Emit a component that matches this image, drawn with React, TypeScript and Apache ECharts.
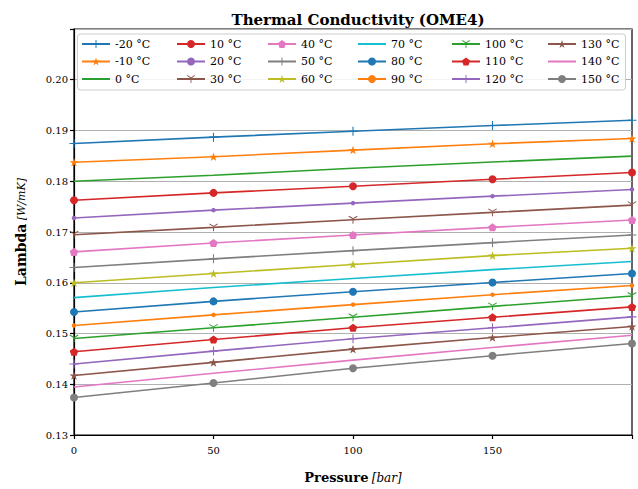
import React, { useEffect, useRef } from 'react';
import * as echarts from 'echarts';

const pressure = [0, 50, 100, 150, 200];
const xTickLabels = ['0', '50', '100', '150'];
const yTickLabels = ['0.13', '0.14', '0.15', '0.16', '0.17', '0.18', '0.19', '0.20'];

const temperatures = [-20, -10, 0, 10, 20, 30, 40, 50, 60, 70, 80, 90, 100, 110, 120, 130, 140, 150];

const lambdaM20 = [0.18745, 0.18869, 0.18986, 0.19098, 0.19202];
const lambdaM10 = [0.18373, 0.18484, 0.18614, 0.18739, 0.18843];
const lambda0 = [0.18, 0.18118, 0.18255, 0.18378, 0.18496];
const lambda10 = [0.17627, 0.17771, 0.17902, 0.18039, 0.18171];
const lambda20 = [0.17275, 0.17431, 0.17569, 0.17706, 0.17837];
const lambda30 = [0.16947, 0.17092, 0.17241, 0.17386, 0.17529];
const lambda40 = [0.16608, 0.16784, 0.16941, 0.17092, 0.17235];
const lambda50 = [0.163, 0.16471, 0.16633, 0.1679, 0.16941];
const lambda60 = [0.16, 0.16182, 0.16359, 0.16535, 0.1668];
const lambda70 = [0.15706, 0.15906, 0.16084, 0.16259, 0.16418];
const lambda80 = [0.15425, 0.15633, 0.15824, 0.16006, 0.16182];
const lambda90 = [0.15157, 0.15367, 0.15569, 0.15765, 0.15947];
const lambda100 = [0.14902, 0.15112, 0.1532, 0.15535, 0.15739];
const lambda110 = [0.14641, 0.14882, 0.15112, 0.1532, 0.15524];
const lambda120 = [0.14398, 0.14653, 0.14896, 0.15112, 0.15327];
const lambda130 = [0.14171, 0.14431, 0.14692, 0.14922, 0.15137];
const lambda140 = [0.13947, 0.14216, 0.14476, 0.14725, 0.14967];
const lambda150 = [0.13739, 0.14025, 0.14314, 0.14563, 0.14804];

const lambdaSeries = [
  lambdaM20, lambdaM10, lambda0, lambda10, lambda20, lambda30, lambda40, lambda50, lambda60,
  lambda70, lambda80, lambda90, lambda100, lambda110, lambda120, lambda130, lambda140, lambda150,
];

const tab10 = ['#1f77b4', '#ff7f0e', '#2ca02c', '#d62728', '#9467bd', '#8c564b', '#e377c2', '#7f7f7f', '#bcbd22', '#17becf'];

const PLUS = 'path://M-0.12,-1L0.12,-1L0.12,-0.12L1,-0.12L1,0.12L0.12,0.12L0.12,1L-0.12,1L-0.12,0.12L-1,0.12L-1,-0.12L-0.12,-0.12Z';
const STAR = 'path://M0,-1L0.2245,-0.309L0.951,-0.309L0.3633,0.118L0.588,0.809L0,0.382L-0.588,0.809L-0.3633,0.118L-0.951,-0.309L-0.2245,-0.309Z';
const TRI = 'path://M-0.1,0L0.1,0L0.1,1L-0.1,1ZM0.05,-0.0866L-0.05,0.0866L-0.916,-0.4134L-0.816,-0.5866ZM-0.05,-0.0866L0.05,0.0866L0.916,-0.4134L0.816,-0.5866Z';
const PENT = 'path://M0,-1L0.951,-0.309L0.588,0.809L-0.588,0.809L-0.951,-0.309Z';

const markerCycle: { symbol: string; size: number }[] = [
  { symbol: PLUS, size: 9 },
  { symbol: STAR, size: 9 },
  { symbol: 'none', size: 0 },
  { symbol: 'circle', size: 8 },
  { symbol: 'circle', size: 4.5 },
  { symbol: TRI, size: 9 },
  { symbol: PENT, size: 8.5 },
];

const FONT = 'DejaVu Serif';

export default function App() {
  const ref = useRef<HTMLDivElement>(null);
  useEffect(() => {
    const chart = echarts.init(ref.current!, null, { renderer: 'svg' });
    const names = temperatures.map((t) => `${t} °C`);
    const series = temperatures.map((t, i) => {
      const m = markerCycle[i % markerCycle.length];
      const color = tab10[i % tab10.length];
      return {
        name: names[i],
        type: 'line',
        data: pressure.map((p, j) => [p, lambdaSeries[i][j]]),
        symbol: m.symbol,
        symbolSize: m.size,
        symbolKeepAspect: true,
        showSymbol: m.symbol !== 'none',
        color,
        lineStyle: { color, width: 1.6 },
        itemStyle: { color },
        emphasis: { disabled: true },
        z: 2,
      };
    });
    const legendLefts = [81, 176, 267, 357, 451, 547];
    const legends = legendLefts.map((left, c) => ({
      orient: 'vertical',
      left,
      top: 37,
      padding: 0,
      itemWidth: 28,
      itemHeight: 10,
      itemGap: 3.5,
      selectedMode: false,
      z: 6,
      data: names.slice(c * 3, c * 3 + 3).map((n) => {
        const idx = names.indexOf(n);
        const m = markerCycle[idx % markerCycle.length];
        return m.symbol === 'none' ? { name: n, itemStyle: { opacity: 0 } } : { name: n };
      }),
      textStyle: { fontFamily: FONT, fontSize: 11, color: '#000', lineHeight: 14 },
    }));
    chart.setOption({
      animation: false,
      backgroundColor: '#fff',
      title: {
        text: 'Thermal Conductivity (OME4)',
        left: 353,
        textAlign: 'center',
        top: 7,
        textStyle: { fontFamily: FONT, fontSize: 15, fontWeight: 'bold', color: '#000' },
      },
      graphic: [
        {
          type: 'rect',
          z: 5,
          shape: { x: 77.5, y: 34, width: 548, height: 56, r: 3 },
          style: { fill: 'rgba(255,255,255,0.85)', stroke: '#cccccc', lineWidth: 1 },
        },
      ],
      legend: legends,
      grid: { left: 74, right: 6, top: 29, bottom: 52, show: true, borderColor: '#000', borderWidth: 1.2 },
      xAxis: {
        type: 'value',
        min: 0,
        max: 200,
        interval: 50,
        name: '{b|Pressure} {i|[bar]}',
        nameLocation: 'middle',
        nameGap: 36,
        nameTextStyle: {
          rich: {
            b: { fontFamily: FONT, fontSize: 13, fontWeight: 'bold', color: '#000' },
            i: { fontFamily: FONT, fontSize: 12, fontStyle: 'italic', color: '#000' },
          },
        },
        axisLine: { show: true, lineStyle: { color: '#000', width: 1.2 } },
        axisTick: { show: true, length: 4, lineStyle: { color: '#000', width: 1.2 } },
        axisLabel: {
          fontFamily: FONT,
          fontSize: 10,
          color: '#000',
          margin: 10,
          formatter: (v: number) => {
            const idx = pressure.indexOf(v);
            return idx >= 0 && idx < xTickLabels.length ? xTickLabels[idx] : '';
          },
        },
        splitLine: { show: false },
      },
      yAxis: {
        type: 'value',
        min: 0.13,
        max: 0.21,
        interval: 0.01,
        name: '{b|Lambda} {i|[W/mK]}',
        nameLocation: 'middle',
        nameGap: 46,
        nameTextStyle: {
          rich: {
            b: { fontFamily: FONT, fontSize: 14, fontWeight: 'bold', color: '#000' },
            i: { fontFamily: FONT, fontSize: 11, fontStyle: 'italic', color: '#000' },
          },
        },
        axisLine: { show: true, lineStyle: { color: '#000', width: 1.2 } },
        axisTick: { show: true, length: 4, lineStyle: { color: '#000', width: 1.2 } },
        axisLabel: {
          fontFamily: FONT,
          fontSize: 10,
          color: '#000',
          margin: 6,
          formatter: (v: number) => {
            const idx = Math.round((v - 0.13) / 0.01);
            return idx >= 0 && idx < yTickLabels.length ? yTickLabels[idx] : '';
          },
        },
        splitLine: { show: true, lineStyle: { color: '#b0b0b0', width: 1 } },
      },
      series,
    });
    return () => chart.dispose();
  }, []);
  return <div ref={ref} style={{ position: 'fixed', left: 0, top: 0, width: 638, height: 489 }} />;
}
